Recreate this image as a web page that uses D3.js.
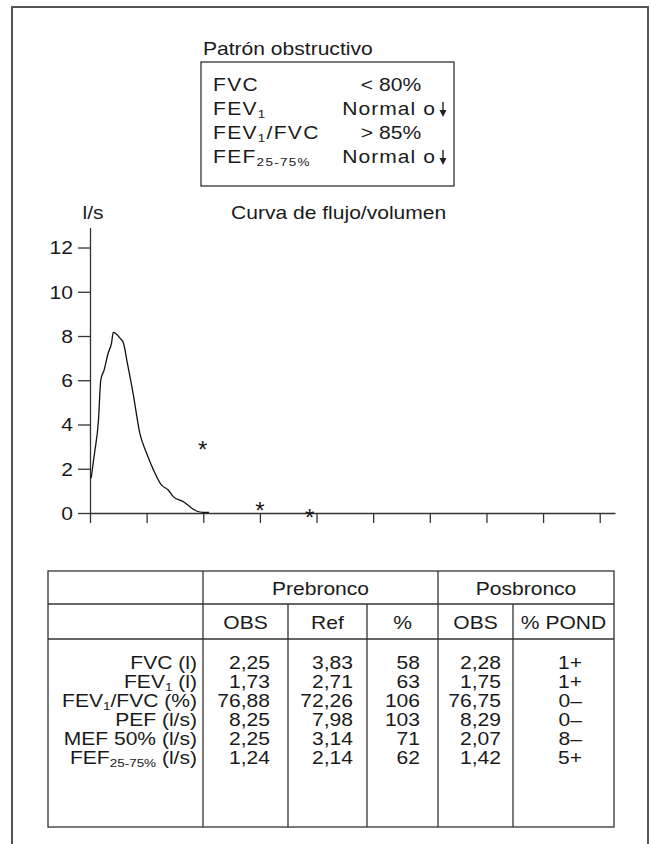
<!DOCTYPE html>
<html>
<head>
<meta charset="utf-8">
<script src="https://cdn.jsdelivr.net/npm/d3@7"></script>
<style>
  body { margin: 0; background: #fff; }
  svg text { font-family: "Liberation Sans", Arial, sans-serif; fill: #1a1a1a; }
</style>
</head>
<body>
<div id="graf"></div>
<script>
// Datos de la curva flujo/volumen (l, l/s)
const volumen = [0.02, 0.08, 0.15, 0.19, 0.25, 0.32, 0.38, 0.41, 0.46, 0.53, 0.59, 0.66, 0.76, 0.88, 1.0, 1.12, 1.26, 1.38, 1.47, 1.65, 1.76, 1.88, 2.0, 2.1]
const flujo = [1.57, 2.7, 4.2, 6.0, 6.47, 7.22, 7.68, 8.16, 8.1, 7.9, 7.68, 6.77, 5.42, 3.6, 2.7, 1.95, 1.27, 1.04, 0.74, 0.51, 0.29, 0.09, 0.03, 0.03]
// asteriscos
const astVol = [1.99, 3.0, 3.88]
const astFlujo = [3.08, 0.32, 0.0]
const yTicks = [0, 2, 4, 6, 8, 10, 12]
const xTicks = [0, 1, 2, 3, 4, 5, 6, 7, 8, 9]

// Recuadro del patrón
const patronNombres = [[['FVC']], [['FEV'], ['1', 1]], [['FEV'], ['1', 1], ['/FVC']], [['FEF'], ['25-75%', 1]]]
const patronValores = ['< 80%', 'Normal o', '> 85%', 'Normal o']
const patronFlecha = [false, true, false, true]

// Tabla
const parametros = [[['FVC (l)']], [['FEV'], ['1', 1], [' (l)']], [['FEV'], ['1', 1], ['/FVC (%)']],
  [['PEF (l/s)']], [['MEF 50% (l/s)']], [['FEF'], ['25-75%', 1], [' (l/s)']]]
const preObs = [2.25, 1.73, 76.88, 8.25, 2.25, 1.24]
const preRef = [3.83, 2.71, 72.26, 7.98, 3.14, 2.14]
const prePct = [58, 63, 106, 103, 71, 62]
const posObs = [2.28, 1.75, 76.75, 8.29, 2.07, 1.42]
const posPond = ['1+', '1+', '0–', '0–', '8–', '5+']

const SX = 1.17
const FS = 18
const locale = d3.formatLocale({ decimal: ',', thousands: '.', grouping: [3], currency: ['', ''] })
const f2 = locale.format('.2f')

const svg = d3.select('#graf').append('svg').attr('width', 651).attr('height', 844)

// texto estirado horizontalmente con subíndices
function texto(g, x, y, partes, anchor, size) {
  size = size || FS
  const t = g.append('text')
    .attr('transform', `translate(${x},${y}) scale(${SX},1)`)
    .attr('text-anchor', anchor || 'start')
    .style('font-size', size + 'px')
  let sub = false
  partes.forEach(p => {
    const s = t.append('tspan').text(p[0])
    if (p[1] && !sub) { s.attr('dy', 3).style('font-size', (size * 0.64) + 'px'); sub = true }
    else if (!p[1] && sub) { s.attr('dy', -3); sub = false }
  })
  return t
}

// Marco exterior
svg.append('path')
  .attr('d', 'M12,844V7H648V844')
  .attr('fill', 'none').attr('stroke', '#555').attr('stroke-width', 2)

// Recuadro superior
texto(svg, 203, 55, [['Patrón obstructivo']], 'start', 18)
svg.append('rect').attr('x', 201).attr('y', 62).attr('width', 253).attr('height', 124)
  .attr('fill', 'none').attr('stroke', '#333').attr('stroke-width', 1.3)
patronNombres.forEach((n, i) => {
  const y = 91 + i * 24
  texto(svg, 213, y, n, 'start', 18).style('letter-spacing', '1.1px')
  if (patronFlecha[i]) {
    texto(svg, 436, y, [[patronValores[i]]], 'end', 18).style('letter-spacing', '0.9px')
    svg.append('path').attr('d', `M443,${y - 13}V${y - 4}`).attr('stroke', '#222').attr('stroke-width', 1.4)
    svg.append('path').attr('d', `M439.5,${y - 5}L446.5,${y - 5}L443,${y + 2}Z`).attr('fill', '#222')
  } else {
    texto(svg, 391, y, [[patronValores[i]]], 'middle', 18)
  }
})

// Gráfica
const x = d3.scaleLinear().domain([0, 9.27]).range([90, 615])
const y = d3.scaleLinear().domain([0, 12.9]).range([513, 227.6])

texto(svg, 93, 219, [['l/s']], 'middle')
texto(svg, 231, 219, [['Curva de flujo/volumen']], 'start')

const ejeY = svg.append('g').attr('transform', 'translate(90,0)')
  .call(d3.axisLeft(y).tickValues(yTicks).tickSize(12).tickSizeOuter(0).tickPadding(5))
ejeY.selectAll('text')
  .style('font-size', FS + 'px')
  .attr('x', -17 / SX)
  .attr('transform', `scale(${SX},1)`)
  .attr('dy', '0.35em')

const ejeX = svg.append('g').attr('transform', 'translate(0,513)')
  .call(d3.axisBottom(x).tickValues(xTicks).tickSize(10).tickSizeOuter(0).tickFormat(''))

svg.selectAll('.domain, .tick line').attr('stroke', '#333').attr('stroke-width', 1.3)

const linea = d3.line()
  .x((d, i) => x(volumen[i]))
  .y(d => y(d))
  .curve(d3.curveMonotoneX)

svg.append('path').datum(flujo)
  .attr('d', linea)
  .attr('fill', 'none').attr('stroke', '#111').attr('stroke-width', 1.3)

astVol.forEach((v, i) => {
  svg.append('text')
    .attr('x', x(v)).attr('y', y(astFlujo[i]) + 13)
    .attr('text-anchor', 'middle')
    .style('font-size', '24px')
    .text('*')
})

// Tabla
const colX = [48, 203, 288, 367, 438, 513, 614]
const tTop = 571, tRow1 = 604, tRow2 = 639, tBot = 827
const tabla = svg.append('g').attr('stroke', '#333').attr('stroke-width', 1.3)
tabla.append('rect').attr('x', colX[0]).attr('y', tTop).attr('width', colX[6] - colX[0]).attr('height', tBot - tTop).attr('fill', 'none')
tabla.append('line').attr('x1', colX[0]).attr('x2', colX[6]).attr('y1', tRow1).attr('y2', tRow1)
tabla.append('line').attr('x1', colX[0]).attr('x2', colX[6]).attr('y1', tRow2).attr('y2', tRow2)
;[1, 4].forEach(c => tabla.append('line').attr('x1', colX[c]).attr('x2', colX[c]).attr('y1', tTop).attr('y2', tBot))
;[2, 3, 5].forEach(c => tabla.append('line').attr('x1', colX[c]).attr('x2', colX[c]).attr('y1', tRow1).attr('y2', tBot))

texto(svg, (colX[1] + colX[4]) / 2, 595, [['Prebronco']], 'middle')
texto(svg, (colX[4] + colX[6]) / 2, 595, [['Posbronco']], 'middle')
const subCab = ['OBS', 'Ref', '%', 'OBS', '% POND']
subCab.forEach((s, i) => texto(svg, (colX[i + 1] + colX[i + 2]) / 2, 629, [[s]], 'middle'))

parametros.forEach((p, i) => {
  const yy = 669 + i * 19
  texto(svg, 197, yy, p, 'end')
  texto(svg, 270, yy, [[f2(preObs[i])]], 'end')
  texto(svg, 353, yy, [[f2(preRef[i])]], 'end')
  texto(svg, 420, yy, [[String(prePct[i])]], 'end')
  texto(svg, 501, yy, [[f2(posObs[i])]], 'end')
  texto(svg, 582, yy, [[posPond[i]]], 'end')
})
</script>
</body>
</html>
